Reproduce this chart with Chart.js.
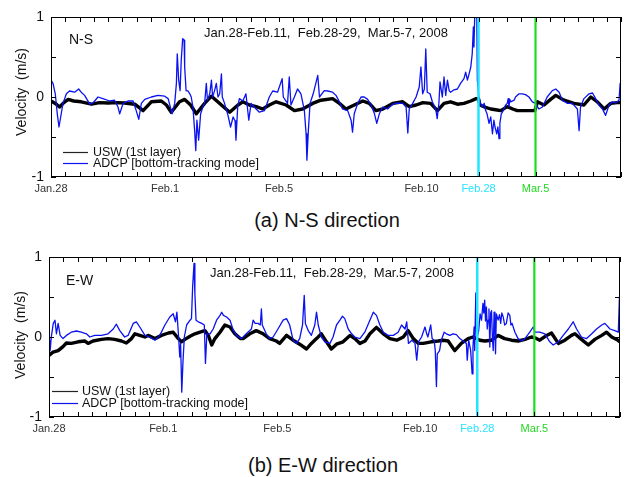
<!DOCTYPE html>
<html>
<head>
<meta charset="utf-8">
<script src="https://cdn.jsdelivr.net/npm/chart.js@4.4.1/dist/chart.umd.min.js"></script>
<style>
  html, body { margin: 0; padding: 0; background: #fff; }
  body { width: 627px; height: 477px; position: relative; overflow: hidden;
         font-family: "Liberation Sans", Arial, Helvetica, sans-serif; }
  canvas { position: absolute; left: 0; }
  #ns { top: 0; }
  #ew { top: 240px; }
  .cap { position: absolute; font-size: 20px; line-height: 20px; color: #111;
         white-space: nowrap; transform: translateX(-50%); }
</style>
</head>
<body>
<canvas id="ns" width="627" height="200"></canvas>
<canvas id="ew" width="627" height="200"></canvas>
<div class="cap" style="left:327px; top:210px;">(a) N-S direction</div>
<div class="cap" style="left:323px; top:455px;">(b) E-W direction</div>

<script>
// Time axis runs in days from Jan.28 00:00; Jan.28-Feb.11, Feb.28-29 and Mar.5-7 are joined end to end.
const dayTicks = [0, 4, 8, 13, 15, 17];
const dayTickLabels = ['Jan.28', 'Feb.1', 'Feb.5', 'Feb.10', 'Feb.28', 'Mar.5'];
const markerDays = [15, 17];            // Feb.28 and Mar.5 segment starts
const velocityTicks = [-1, 0, 1];

// N-S component [day, m/s]
const nsUsw = [[0,-0.05],[0.15,-0.08],[0.3,-0.125],[0.45,-0.07],[0.6,-0.03],[0.8,-0.05],[1.06,-0.06],[1.42,-0.09],[1.7,-0.07],[2.0,-0.075],[2.3,-0.07],[2.58,-0.075],[2.94,-0.09],[3.23,-0.17],[3.52,-0.06],[3.87,-0.05],[4.05,-0.1],[4.22,-0.19],[4.51,-0.06],[4.69,-0.03],[4.9,-0.1],[5.1,-0.21],[5.39,-0.08],[5.63,0.01],[5.98,-0.1],[6.27,-0.19],[6.56,-0.1],[6.73,-0.06],[6.96,-0.1],[7.2,-0.12],[7.43,-0.15],[7.66,-0.1],[7.9,-0.06],[8.25,-0.1],[8.54,-0.17],[8.83,-0.15],[9.18,-0.08],[9.47,-0.04],[9.88,-0.02],[10.12,-0.08],[10.35,-0.15],[10.64,-0.1],[10.94,-0.05],[11.17,-0.08],[11.4,-0.17],[11.64,-0.15],[11.99,-0.08],[12.34,-0.06],[12.57,-0.12],[12.81,-0.1],[13.05,-0.07],[13.32,-0.08],[13.56,-0.17],[13.79,-0.08],[14.02,-0.06],[14.26,-0.09],[14.49,-0.08],[14.73,-0.05],[14.92,-0.02],[15.0,-0.02],[15.05,-0.1],[15.25,-0.13],[15.43,-0.15],[15.6,-0.16],[15.78,-0.17],[16.01,-0.12],[16.2,-0.15],[16.36,-0.17],[16.6,-0.17],[16.8,-0.17],[16.98,-0.17],[17.07,-0.06],[17.3,-0.1],[17.53,-0.03],[17.71,0.02],[18.0,-0.04],[18.35,-0.08],[18.7,-0.1],[18.94,0.0],[19.17,-0.06],[19.41,-0.15],[19.64,-0.08],[19.87,-0.07],[20,-0.07]];

const nsAdcp = [[0.0,0.21],[0.07,0.17],[0.15,0.04],[0.22,-0.21],[0.28,-0.375],[0.34,-0.25],[0.42,-0.08],[0.54,0.04],[0.65,0.075],[0.83,0.06],[0.97,0.1],[1.06,0.06],[1.18,0.02],[1.36,-0.09],[1.47,-0.075],[1.65,0.0],[1.82,-0.02],[2.06,-0.05],[2.23,-0.04],[2.35,-0.125],[2.41,-0.21],[2.53,-0.08],[2.7,-0.05],[2.88,-0.05],[2.99,-0.17],[3.08,-0.28],[3.17,-0.08],[3.29,-0.03],[3.52,0.0],[3.75,0.02],[3.99,0.01],[4.11,-0.02],[4.25,-0.21],[4.34,-0.08],[4.4,0.17],[4.43,0.54],[4.48,0.21],[4.53,0.08],[4.57,0.46],[4.62,0.73],[4.67,0.71],[4.69,0.375],[4.74,0.08],[4.81,0.075],[4.87,0.04],[4.92,0.0],[4.98,-0.125],[5.04,-0.42],[5.08,-0.67],[5.12,-0.29],[5.18,-0.54],[5.25,-0.21],[5.33,-0.125],[5.39,-0.08],[5.45,0.17],[5.49,-0.04],[5.57,0.04],[5.63,0.21],[5.67,0.0],[5.74,0.08],[5.8,0.17],[5.86,0.0],[5.92,0.04],[5.98,0.29],[6.01,0.0],[6.09,-0.08],[6.21,-0.23],[6.3,-0.375],[6.39,-0.25],[6.46,-0.3],[6.49,-0.54],[6.55,-0.125],[6.61,-0.02],[6.73,-0.05],[6.84,0.04],[6.94,-0.29],[7.02,-0.08],[7.13,-0.125],[7.31,-0.19],[7.49,-0.17],[7.66,0.0],[7.78,0.075],[7.95,0.06],[8.11,0.23],[8.15,0.0],[8.3,-0.08],[8.36,0.25],[8.42,-0.1],[8.54,0.0],[8.65,0.1],[8.77,0.04],[8.89,-0.17],[8.95,-0.46],[8.98,-0.79],[9.03,-0.42],[9.09,-0.08],[9.2,0.04],[9.36,0.27],[9.42,0.0],[9.59,0.08],[9.71,0.075],[9.88,0.06],[10.0,0.02],[10.12,-0.06],[10.23,-0.15],[10.41,-0.17],[10.53,-0.29],[10.58,-0.44],[10.64,-0.21],[10.76,-0.08],[10.88,0.0],[10.99,0.0],[11.11,-0.03],[11.23,-0.1],[11.35,-0.21],[11.43,-0.33],[11.52,-0.21],[11.64,-0.125],[11.81,-0.15],[11.99,-0.09],[12.16,-0.075],[12.34,-0.08],[12.46,-0.125],[12.52,-0.45],[12.57,-0.15],[12.69,-0.08],[12.81,0.0],[12.92,0.125],[12.98,0.375],[13.04,0.04],[13.1,0.1],[13.15,0.6],[13.2,0.06],[13.3,0.04],[13.38,-0.06],[13.5,-0.15],[13.55,-0.27],[13.61,-0.08],[13.65,0.19],[13.73,0.0],[13.79,0.25],[13.85,0.02],[13.91,0.21],[13.97,0.08],[14.02,0.06],[14.14,0.09],[14.26,0.1],[14.37,0.17],[14.49,0.23],[14.55,0.31],[14.61,0.21],[14.67,0.29],[14.73,0.375],[14.78,0.54],[14.82,0.875],[14.84,0.625],[14.87,1.05],[14.9,1.0],[14.94,1.05],[14.96,0.21],[15.02,-0.04],[15.05,-0.06],[15.13,-0.125],[15.2,-0.08],[15.25,-0.17],[15.3,-0.21],[15.37,-0.33],[15.43,-0.25],[15.49,-0.46],[15.54,-0.29],[15.58,-0.375],[15.64,-0.46],[15.68,-0.375],[15.72,-0.52],[15.75,-0.33],[15.8,-0.21],[15.87,-0.17],[15.95,-0.1],[16.01,-0.08],[16.04,-0.02],[16.07,-0.12],[16.1,-0.03],[16.13,-0.06],[16.25,-0.04],[16.3,0.0],[16.42,0.04],[16.54,0.04],[16.65,0.03],[16.77,0.0],[16.89,-0.06],[17.0,-0.08],[17.12,-0.15],[17.24,-0.125],[17.41,0.0],[17.59,0.08],[17.71,0.1],[17.83,0.06],[17.94,-0.04],[18.12,-0.08],[18.29,-0.08],[18.47,-0.15],[18.53,-0.42],[18.58,-0.125],[18.7,-0.02],[18.88,0.04],[19.0,0.05],[19.11,-0.02],[19.23,-0.1],[19.35,-0.15],[19.46,-0.23],[19.58,-0.1],[19.7,-0.06],[19.81,-0.075],[19.93,-0.04],[19.97,0.17],[20.0,0.17]];

// E-W component [day, m/s]
const ewUsw = [[0.0,-0.23],[0.14,-0.19],[0.32,-0.17],[0.49,-0.12],[0.61,-0.075],[0.78,-0.08],[1.02,-0.06],[1.25,-0.05],[1.37,-0.08],[1.54,-0.05],[1.84,-0.03],[2.07,-0.02],[2.3,-0.03],[2.54,-0.05],[2.71,-0.075],[2.89,-0.02],[3.01,0.04],[3.18,0.02],[3.36,0.0],[3.47,0.02],[3.71,-0.02],[3.94,0.02],[4.18,0.05],[4.35,0.06],[4.53,-0.02],[4.64,-0.06],[4.76,-0.03],[4.94,0.01],[5.11,0.04],[5.29,0.06],[5.46,0.08],[5.58,0.02],[5.7,-0.1],[5.81,-0.02],[5.99,0.06],[6.16,0.15],[6.34,0.125],[6.51,0.04],[6.7,-0.02],[6.8,-0.02],[7.03,0.04],[7.26,0.08],[7.5,0.04],[7.73,-0.02],[7.96,-0.05],[8.08,-0.08],[8.32,0.02],[8.55,-0.04],[8.78,-0.09],[9.02,-0.15],[9.19,-0.08],[9.37,-0.02],[9.54,0.04],[9.72,-0.06],[9.89,-0.15],[10.07,-0.09],[10.3,-0.06],[10.54,0.02],[10.71,-0.02],[10.89,-0.08],[11.07,-0.05],[11.24,0.04],[11.47,0.12],[11.71,0.04],[11.94,-0.02],[12.18,-0.04],[12.41,0.0],[12.58,0.08],[12.76,-0.02],[12.94,-0.08],[13.11,-0.08],[13.39,-0.06],[13.63,-0.05],[13.8,-0.04],[13.98,-0.05],[14.21,-0.17],[14.44,-0.08],[14.68,-0.02],[14.85,0.0],[15.09,-0.04],[15.26,-0.05],[15.5,-0.04],[15.73,0.02],[15.96,-0.02],[16.2,-0.04],[16.43,-0.05],[16.67,-0.03],[16.9,0.0],[17.02,-0.01],[17.19,-0.04],[17.43,0.02],[17.6,0.05],[17.84,-0.08],[18.07,-0.04],[18.3,0.02],[18.42,0.04],[18.65,-0.03],[18.89,-0.1],[19.12,-0.03],[19.36,0.02],[19.53,0.06],[19.71,0.0],[19.88,-0.03],[20.0,-0.06]];

const ewAdcp = [[0.0,0.08],[0.04,-0.17],[0.08,0.0],[0.15,0.17],[0.21,0.21],[0.26,0.04],[0.32,0.17],[0.39,0.02],[0.49,-0.02],[0.61,0.02],[0.78,0.06],[0.96,0.075],[1.13,0.06],[1.31,0.04],[1.43,0.0],[1.6,0.02],[1.84,0.02],[2.07,0.04],[2.25,0.1],[2.36,0.16],[2.48,0.08],[2.65,0.0],[2.77,0.02],[2.95,0.17],[3.06,0.19],[3.18,0.125],[3.36,0.02],[3.53,0.0],[3.71,-0.04],[3.88,0.02],[4.06,0.15],[4.23,0.25],[4.35,0.29],[4.43,0.19],[4.48,0.31],[4.54,0.0],[4.58,-0.25],[4.61,-0.08],[4.65,-0.69],[4.69,-0.33],[4.74,0.0],[4.82,0.15],[4.94,0.21],[4.99,0.23],[5.03,0.62],[5.08,0.92],[5.11,0.54],[5.15,0.21],[5.23,0.19],[5.35,0.17],[5.44,0.15],[5.48,-0.33],[5.53,0.04],[5.64,0.04],[5.75,0.1],[5.87,0.21],[5.99,0.27],[6.05,0.31],[6.11,0.27],[6.22,0.25],[6.34,0.21],[6.46,0.08],[6.57,0.02],[6.74,-0.02],[6.91,0.04],[7.09,0.1],[7.15,0.21],[7.22,0.17],[7.32,0.17],[7.4,0.15],[7.44,0.35],[7.47,0.15],[7.61,0.04],[7.73,-0.02],[7.85,0.0],[8.02,0.1],[8.2,0.21],[8.32,0.23],[8.43,0.15],[8.55,-0.04],[8.67,-0.08],[8.78,-0.02],[8.88,0.15],[8.94,0.52],[8.98,0.17],[9.08,0.08],[9.19,0.02],[9.31,0.15],[9.37,0.31],[9.43,0.15],[9.54,0.0],[9.66,-0.06],[9.84,-0.08],[9.95,0.0],[10.07,0.15],[10.19,0.21],[10.28,0.26],[10.36,0.23],[10.48,0.1],[10.6,0.04],[10.71,0.0],[10.89,-0.02],[11.06,0.06],[11.24,0.21],[11.36,0.31],[11.47,0.27],[11.59,0.15],[11.71,0.06],[11.88,0.02],[12.06,0.02],[12.23,0.06],[12.35,0.15],[12.47,0.1],[12.53,0.19],[12.59,-0.08],[12.71,-0.04],[12.82,-0.08],[12.88,-0.29],[12.94,-0.06],[13.05,0.0],[13.17,0.125],[13.23,0.04],[13.27,0.0],[13.37,0.15],[13.42,-0.02],[13.49,-0.04],[13.53,-0.17],[13.57,-0.62],[13.6,-0.21],[13.68,-0.17],[13.74,-0.04],[13.84,0.06],[13.92,0.04],[14.04,0.02],[14.15,0.04],[14.27,0.03],[14.39,-0.02],[14.5,-0.05],[14.62,-0.08],[14.65,-0.29],[14.7,-0.04],[14.77,-0.17],[14.82,-0.46],[14.85,-0.125],[14.89,0.125],[14.91,-0.17],[14.95,0.55],[14.98,-0.04],[15.05,0.08],[15.1,0.29],[15.15,0.21],[15.2,0.42],[15.23,0.3],[15.26,0.46],[15.29,0.2],[15.32,0.375],[15.35,0.1],[15.38,0.21],[15.41,0.35],[15.44,-0.125],[15.47,0.3],[15.5,0.33],[15.53,0.0],[15.56,-0.17],[15.59,0.31],[15.62,0.05],[15.64,-0.21],[15.67,0.29],[15.73,0.21],[15.78,0.28],[15.82,0.17],[15.86,0.3],[15.91,0.25],[15.96,0.15],[16.02,0.17],[16.08,0.3],[16.14,0.27],[16.18,0.15],[16.22,0.17],[16.32,0.06],[16.43,-0.02],[16.55,-0.05],[16.67,-0.02],[16.84,0.06],[16.96,0.125],[17.02,0.06],[17.19,0.06],[17.37,0.04],[17.54,-0.06],[17.66,-0.1],[17.84,-0.06],[18.01,0.02],[18.19,0.1],[18.36,0.19],[18.48,0.1],[18.65,0.0],[18.83,-0.02],[19.01,0.04],[19.18,0.1],[19.36,0.15],[19.47,0.17],[19.65,0.1],[19.82,0.08],[19.94,0.06],[19.98,0.5],[20.0,0.06]];

const FONT = '"Liberation Sans", Arial, Helvetica, sans-serif';
const BLUE = '#0a12f2';
const CYAN = '#1ee6ff';
const GREEN = '#1edc1e';
const tickColor = { 15: '#27e4ff', 17: '#22d822' };

const toPoints = series => series.map(([d, v]) => ({ x: d, y: v }));
const markerLine = day => [{ x: day, y: -1 }, { x: day, y: 1 }];

// Frame, inward tick marks, y title, panel tag, period text and legend
const panelDecor = {
  id: 'panelDecor',
  afterDraw(chart, args, o) {
    const { ctx, chartArea: a, scales: { x, y } } = chart;
    ctx.save();
    ctx.strokeStyle = '#000';
    ctx.lineWidth = 1;
    ctx.beginPath();
    x.ticks.forEach(t => {
      const px = Math.round(x.getPixelForValue(t.value)) + 0.5;
      ctx.moveTo(px, a.bottom); ctx.lineTo(px, a.bottom - 5);
      ctx.moveTo(px, a.top); ctx.lineTo(px, a.top + 5);
    });
    y.ticks.forEach(t => {
      const py = Math.round(y.getPixelForValue(t.value)) + 0.5;
      ctx.moveTo(a.left, py); ctx.lineTo(a.left + 5, py);
      ctx.moveTo(a.right, py); ctx.lineTo(a.right - 5, py);
    });
    ctx.stroke();
    ctx.strokeRect(a.left + 0.5, a.top + 0.5, a.right - a.left - 1, a.bottom - a.top - 1);

    ctx.fillStyle = '#111';
    // y axis title
    ctx.save();
    ctx.translate(o.titleX, o.titleY);
    ctx.rotate(-Math.PI / 2);
    ctx.font = '14px ' + FONT;
    ctx.textAlign = 'center';
    ctx.textBaseline = 'middle';
    ctx.fillText('Velocity  (m/s)', 0, 0);
    ctx.restore();

    ctx.textAlign = 'left';
    ctx.textBaseline = 'alphabetic';
    ctx.font = '14px ' + FONT;
    ctx.fillText(o.tag, o.tagX, o.tagY);
    ctx.font = '13px ' + FONT;
    ctx.fillText('Jan.28-Feb.11,  Feb.28-29,  Mar.5-7, 2008', o.rangeX, o.rangeY);

    // legend
    ctx.font = '12.5px ' + FONT;
    ctx.textBaseline = 'middle';
    const items = chart.data.datasets.filter(ds => ds.legend);
    items.forEach((ds, i) => {
      const ly = o.legY + i * o.legGap;
      ctx.strokeStyle = ds.legendColor;
      ctx.lineWidth = 1.2;
      ctx.beginPath();
      ctx.moveTo(o.legX0, ly + 0.5); ctx.lineTo(o.legX1, ly + 0.5);
      ctx.stroke();
      ctx.fillStyle = '#111';
      ctx.fillText(ds.label, o.legTextX, ly + 1);
    });
    ctx.restore();
  }
};

function makePanel(id, usw, adcp, geom, decor) {
  new Chart(document.getElementById(id), {
    type: 'line',
    data: {
      datasets: [
        { label: 'Feb.28', data: markerLine(markerDays[0]), borderColor: CYAN, borderWidth: 2.5, pointRadius: 0 },
        { label: 'Mar.5', data: markerLine(markerDays[1]), borderColor: GREEN, borderWidth: 2.2, pointRadius: 0 },
        { label: 'ADCP [bottom-tracking mode]', data: toPoints(adcp), borderColor: BLUE, borderWidth: 1.3,
          pointRadius: 0, borderJoinStyle: 'round', legend: true, legendColor: BLUE },
        { label: 'USW (1st layer)', data: toPoints(usw), borderColor: '#000', borderWidth: 3.4,
          pointRadius: 0, borderJoinStyle: 'round', legend: true, legendColor: '#222' }
      ].map(ds => Object.assign({ tension: 0, fill: false }, ds))
    },
    options: {
      responsive: false,
      animation: false,
      devicePixelRatio: 1,
      layout: { padding: { left: 0, top: geom.top, right: 627 - geom.right, bottom: 0 } },
      plugins: {
        legend: { display: false },
        tooltip: { enabled: false },
        panelDecor: decor
      },
      scales: {
        x: {
          type: 'linear', min: 0, max: 20,
          grid: { display: false, drawTicks: false },
          border: { display: false },
          afterFit: s => { s.height = 200 - geom.bottom; },
          ticks: {
            stepSize: 0.5, maxTicksLimit: 100, autoSkip: false, maxRotation: 0, padding: 5,
            font: { family: FONT, size: 11 },
            color: c => tickColor[c.tick && c.tick.value] || '#333',
            callback: v => {
              const i = dayTicks.indexOf(v);
              return i >= 0 ? dayTickLabels[i] : '';
            }
          }
        },
        y: {
          min: -1, max: 1,
          grid: { display: false, drawTicks: false },
          border: { display: false },
          afterFit: s => { s.width = geom.left; },
          ticks: {
            stepSize: 0.5, padding: 7, color: '#111',
            font: { family: FONT, size: 14 },
            callback: v => velocityTicks.includes(v) ? String(v) : ''
          }
        }
      }
    },
    plugins: [panelDecor]
  });
}

makePanel('ns', nsUsw, nsAdcp, { left: 51, right: 621, top: 17, bottom: 177 },
  { tag: 'N-S', tagX: 69, tagY: 44, rangeX: 204, rangeY: 37, titleX: 22, titleY: 92,
    legX0: 63, legX1: 88, legTextX: 93, legY: 163, legGap: -11 });
makePanel('ew', ewUsw, ewAdcp, { left: 49, right: 620, top: 17, bottom: 177 },
  { tag: 'E-W', tagX: 66, tagY: 45, rangeX: 210, rangeY: 37, titleX: 21, titleY: 95,
    legX0: 52, legX1: 78, legTextX: 82, legY: 163, legGap: -12 });
</script>
</body>
</html>
